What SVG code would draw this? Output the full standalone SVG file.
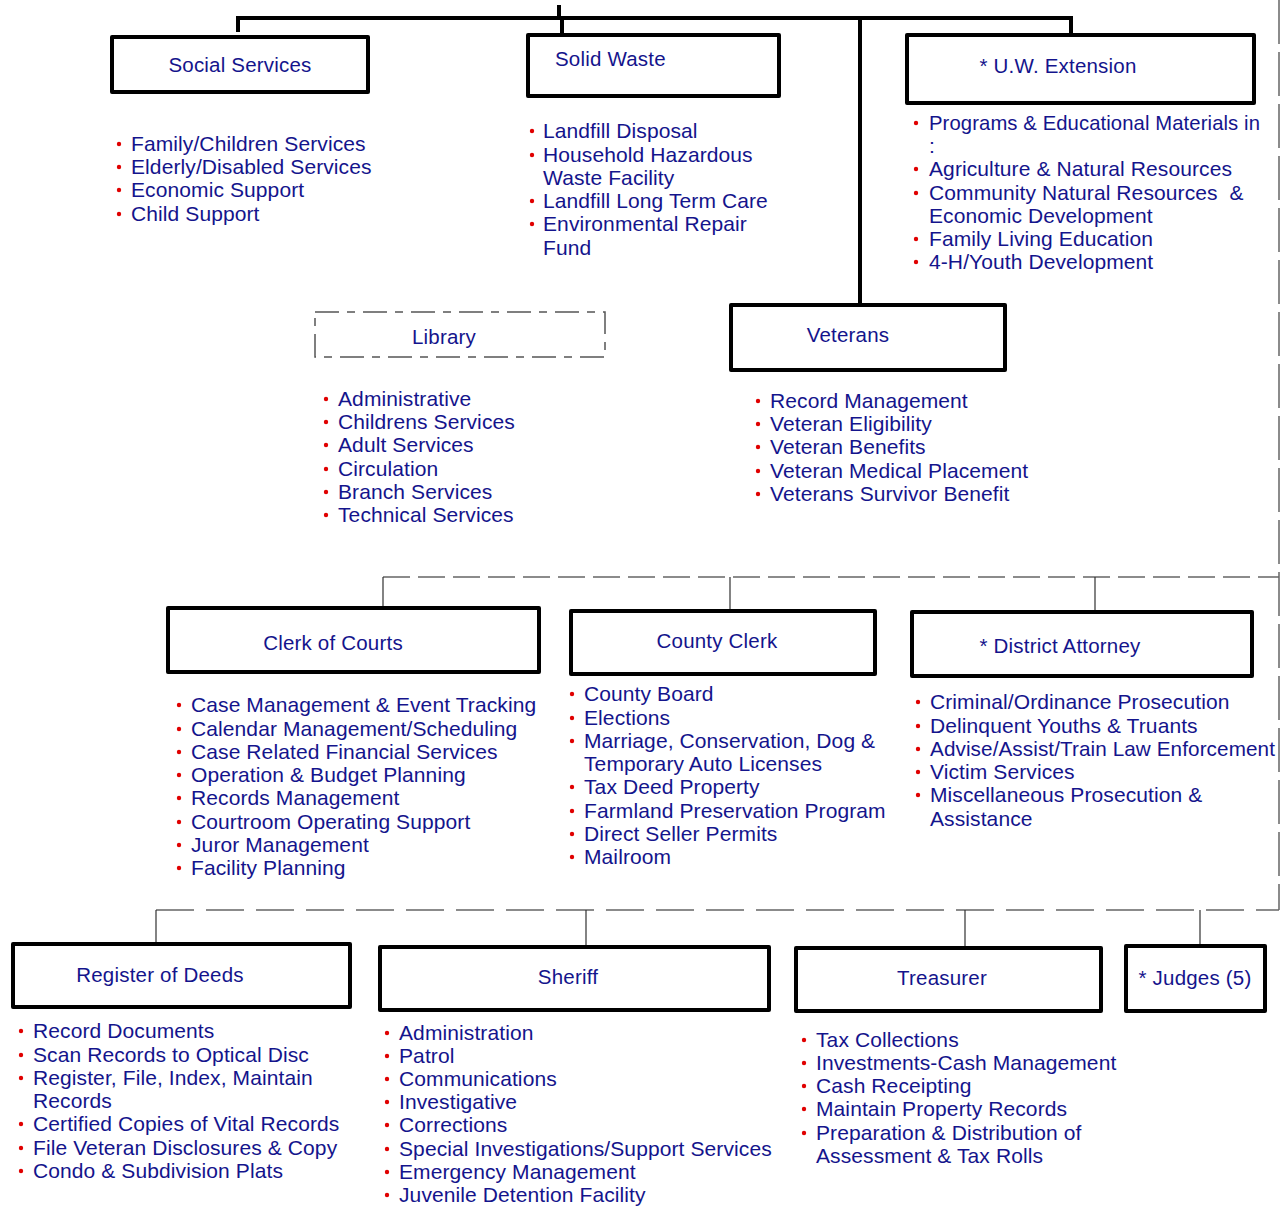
<svg xmlns="http://www.w3.org/2000/svg" width="1281" height="1207" viewBox="0 0 1281 1207">
<style>
.box{fill:#fff;stroke:#000;stroke-width:4;stroke-linejoin:round}
.lib{fill:#fff;stroke:#555;stroke-width:1.5;stroke-dasharray:24 8 8 8}
.t{font-family:"Liberation Sans",Arial,sans-serif;font-size:21px;letter-spacing:0.1px;fill:#14148c}
.h{font-family:"Liberation Sans",Arial,sans-serif;font-size:20.5px;letter-spacing:0.2px;fill:#14148c;text-anchor:middle}
.b{fill:#e00000}
.thick{stroke:#000;stroke-width:4;fill:none}
.thin{stroke:#333;stroke-width:1.2;fill:none}
.dash1{stroke:#666;stroke-width:1.5;fill:none;stroke-dasharray:27 8}
.dash2{stroke:#666;stroke-width:1.5;fill:none;stroke-dasharray:38 12}
.dash3{stroke:#666;stroke-width:1.5;fill:none;stroke-dasharray:44 8}
</style>
<rect width="1281" height="1207" fill="#fff"/>
<g id="connectors">
<path class="thick" d="M559 5V18M238 32V18H1071V34M562 18V35M860 18V304"/>
<path class="dash3" d="M1279 0V910"/>
<path class="dash1" d="M383 577H1279"/>
<path class="thin" d="M383 577V607M730 577V610M1095 577V611"/>
<path class="dash2" d="M156 910H1279"/>
<path class="thin" d="M156 910V943M586 910V946M965 910V946M1200 910V945"/>
</g>
<g id="social">
<rect class="box" x="112" y="37" width="256" height="55"/>
<text class="h" x="240" y="72">Social Services</text>
<circle class="b" cx="119" cy="144" r="2.2"/><text class="t" x="131" y="151">Family/Children Services</text>
<circle class="b" cx="119" cy="167" r="2.2"/><text class="t" x="131" y="174">Elderly/Disabled Services</text>
<circle class="b" cx="119" cy="190" r="2.2"/><text class="t" x="131" y="197">Economic Support</text>
<circle class="b" cx="119" cy="214" r="2.2"/><text class="t" x="131" y="221">Child Support</text>
</g>
<g id="solidwaste">
<rect class="box" x="528" y="35" width="251" height="61"/>
<text class="h" x="555" y="66" style="text-anchor:start">Solid Waste</text>
<circle class="b" cx="532" cy="131" r="2.2"/><text class="t" x="543" y="138">Landfill Disposal</text>
<circle class="b" cx="532" cy="155" r="2.2"/><text class="t" x="543" y="162">Household Hazardous</text>
<text class="t" x="543" y="185">Waste Facility</text>
<circle class="b" cx="532" cy="201" r="2.2"/><text class="t" x="543" y="208">Landfill Long Term Care</text>
<circle class="b" cx="532" cy="224" r="2.2"/><text class="t" x="543" y="231">Environmental Repair</text>
<text class="t" x="543" y="255">Fund</text>
</g>
<g id="uwextension">
<rect class="box" x="907" y="35" width="347" height="68"/>
<text class="h" x="1058" y="73">* U.W. Extension</text>
<circle class="b" cx="916" cy="123" r="2.2"/><text class="t" x="929" y="130" textLength="331" lengthAdjust="spacingAndGlyphs">Programs &amp; Educational Materials in</text>
<text class="t" x="929" y="153">:</text>
<circle class="b" cx="916" cy="169" r="2.2"/><text class="t" x="929" y="176">Agriculture &amp; Natural Resources</text>
<circle class="b" cx="916" cy="193" r="2.2"/><text class="t" x="929" y="200" xml:space="preserve">Community Natural Resources  &amp;</text>
<text class="t" x="929" y="223">Economic Development</text>
<circle class="b" cx="916" cy="239" r="2.2"/><text class="t" x="929" y="246">Family Living Education</text>
<circle class="b" cx="916" cy="262" r="2.2"/><text class="t" x="929" y="269">4-H/Youth Development</text>
</g>
<g id="library">
<rect class="lib" x="315" y="312" width="290" height="45"/>
<text class="h" x="444" y="344">Library</text>
<circle class="b" cx="326" cy="399" r="2.2"/><text class="t" x="338" y="406">Administrative</text>
<circle class="b" cx="326" cy="422" r="2.2"/><text class="t" x="338" y="429">Childrens Services</text>
<circle class="b" cx="326" cy="445" r="2.2"/><text class="t" x="338" y="452">Adult Services</text>
<circle class="b" cx="326" cy="469" r="2.2"/><text class="t" x="338" y="476">Circulation</text>
<circle class="b" cx="326" cy="492" r="2.2"/><text class="t" x="338" y="499">Branch Services</text>
<circle class="b" cx="326" cy="515" r="2.2"/><text class="t" x="338" y="522">Technical Services</text>
</g>
<g id="veterans">
<rect class="box" x="731" y="305" width="274" height="65"/>
<text class="h" x="848" y="342">Veterans</text>
<circle class="b" cx="758" cy="401" r="2.2"/><text class="t" x="770" y="408">Record Management</text>
<circle class="b" cx="758" cy="424" r="2.2"/><text class="t" x="770" y="431">Veteran Eligibility</text>
<circle class="b" cx="758" cy="447" r="2.2"/><text class="t" x="770" y="454">Veteran Benefits</text>
<circle class="b" cx="758" cy="471" r="2.2"/><text class="t" x="770" y="478">Veteran Medical Placement</text>
<circle class="b" cx="758" cy="494" r="2.2"/><text class="t" x="770" y="501">Veterans Survivor Benefit</text>
</g>
<g id="clerkofcourts">
<rect class="box" x="168" y="608" width="371" height="64"/>
<text class="h" x="333" y="650">Clerk of Courts</text>
<circle class="b" cx="179" cy="705" r="2.2"/><text class="t" x="191" y="712">Case Management &amp; Event Tracking</text>
<circle class="b" cx="179" cy="729" r="2.2"/><text class="t" x="191" y="736">Calendar Management/Scheduling</text>
<circle class="b" cx="179" cy="752" r="2.2"/><text class="t" x="191" y="759">Case Related Financial Services</text>
<circle class="b" cx="179" cy="775" r="2.2"/><text class="t" x="191" y="782">Operation &amp; Budget Planning</text>
<circle class="b" cx="179" cy="798" r="2.2"/><text class="t" x="191" y="805">Records Management</text>
<circle class="b" cx="179" cy="822" r="2.2"/><text class="t" x="191" y="829">Courtroom Operating Support</text>
<circle class="b" cx="179" cy="845" r="2.2"/><text class="t" x="191" y="852">Juror Management</text>
<circle class="b" cx="179" cy="868" r="2.2"/><text class="t" x="191" y="875">Facility Planning</text>
</g>
<g id="countyclerk">
<rect class="box" x="571" y="611" width="304" height="63"/>
<text class="h" x="717" y="648">County Clerk</text>
<circle class="b" cx="572" cy="694" r="2.2"/><text class="t" x="584" y="701">County Board</text>
<circle class="b" cx="572" cy="718" r="2.2"/><text class="t" x="584" y="725">Elections</text>
<circle class="b" cx="572" cy="741" r="2.2"/><text class="t" x="584" y="748">Marriage, Conservation, Dog &amp;</text>
<text class="t" x="584" y="771">Temporary Auto Licenses</text>
<circle class="b" cx="572" cy="787" r="2.2"/><text class="t" x="584" y="794">Tax Deed Property</text>
<circle class="b" cx="572" cy="811" r="2.2"/><text class="t" x="584" y="818">Farmland Preservation Program</text>
<circle class="b" cx="572" cy="834" r="2.2"/><text class="t" x="584" y="841">Direct Seller Permits</text>
<circle class="b" cx="572" cy="857" r="2.2"/><text class="t" x="584" y="864">Mailroom</text>
</g>
<g id="districtattorney">
<rect class="box" x="912" y="612" width="340" height="64"/>
<text class="h" x="1060" y="653">* District Attorney</text>
<circle class="b" cx="918" cy="702" r="2.2"/><text class="t" x="930" y="709">Criminal/Ordinance Prosecution</text>
<circle class="b" cx="918" cy="726" r="2.2"/><text class="t" x="930" y="733">Delinquent Youths &amp; Truants</text>
<circle class="b" cx="918" cy="749" r="2.2"/><text class="t" x="930" y="756" textLength="345" lengthAdjust="spacingAndGlyphs">Advise/Assist/Train Law Enforcement</text>
<circle class="b" cx="918" cy="772" r="2.2"/><text class="t" x="930" y="779">Victim Services</text>
<circle class="b" cx="918" cy="795" r="2.2"/><text class="t" x="930" y="802">Miscellaneous Prosecution &amp;</text>
<text class="t" x="930" y="826">Assistance</text>
</g>
<g id="registerofdeeds">
<rect class="box" x="13" y="944" width="337" height="63"/>
<text class="h" x="160" y="982">Register of Deeds</text>
<circle class="b" cx="21" cy="1031" r="2.2"/><text class="t" x="33" y="1038">Record Documents</text>
<circle class="b" cx="21" cy="1055" r="2.2"/><text class="t" x="33" y="1062">Scan Records to Optical Disc</text>
<circle class="b" cx="21" cy="1078" r="2.2"/><text class="t" x="33" y="1085">Register, File, Index, Maintain</text>
<text class="t" x="33" y="1108">Records</text>
<circle class="b" cx="21" cy="1124" r="2.2"/><text class="t" x="33" y="1131">Certified Copies of Vital Records</text>
<circle class="b" cx="21" cy="1148" r="2.2"/><text class="t" x="33" y="1155">File Veteran Disclosures &amp; Copy</text>
<circle class="b" cx="21" cy="1171" r="2.2"/><text class="t" x="33" y="1178">Condo &amp; Subdivision Plats</text>
</g>
<g id="sheriff">
<rect class="box" x="380" y="947" width="389" height="63"/>
<text class="h" x="568" y="984">Sheriff</text>
<circle class="b" cx="387" cy="1033" r="2.2"/><text class="t" x="399" y="1040">Administration</text>
<circle class="b" cx="387" cy="1056" r="2.2"/><text class="t" x="399" y="1063">Patrol</text>
<circle class="b" cx="387" cy="1079" r="2.2"/><text class="t" x="399" y="1086">Communications</text>
<circle class="b" cx="387" cy="1102" r="2.2"/><text class="t" x="399" y="1109">Investigative</text>
<circle class="b" cx="387" cy="1125" r="2.2"/><text class="t" x="399" y="1132">Corrections</text>
<circle class="b" cx="387" cy="1149" r="2.2"/><text class="t" x="399" y="1156">Special Investigations/Support Services</text>
<circle class="b" cx="387" cy="1172" r="2.2"/><text class="t" x="399" y="1179">Emergency Management</text>
<circle class="b" cx="387" cy="1195" r="2.2"/><text class="t" x="399" y="1202">Juvenile Detention Facility</text>
</g>
<g id="treasurer">
<rect class="box" x="796" y="948" width="305" height="63"/>
<text class="h" x="942" y="985">Treasurer</text>
<circle class="b" cx="804" cy="1040" r="2.2"/><text class="t" x="816" y="1047">Tax Collections</text>
<circle class="b" cx="804" cy="1063" r="2.2"/><text class="t" x="816" y="1070">Investments-Cash Management</text>
<circle class="b" cx="804" cy="1086" r="2.2"/><text class="t" x="816" y="1093">Cash Receipting</text>
<circle class="b" cx="804" cy="1109" r="2.2"/><text class="t" x="816" y="1116">Maintain Property Records</text>
<circle class="b" cx="804" cy="1133" r="2.2"/><text class="t" x="816" y="1140">Preparation &amp; Distribution of</text>
<text class="t" x="816" y="1163">Assessment &amp; Tax Rolls</text>
</g>
<g id="judges">
<rect class="box" x="1126" y="946" width="139" height="65"/>
<text class="h" x="1195" y="985">* Judges (5)</text>
</g>
</svg>
